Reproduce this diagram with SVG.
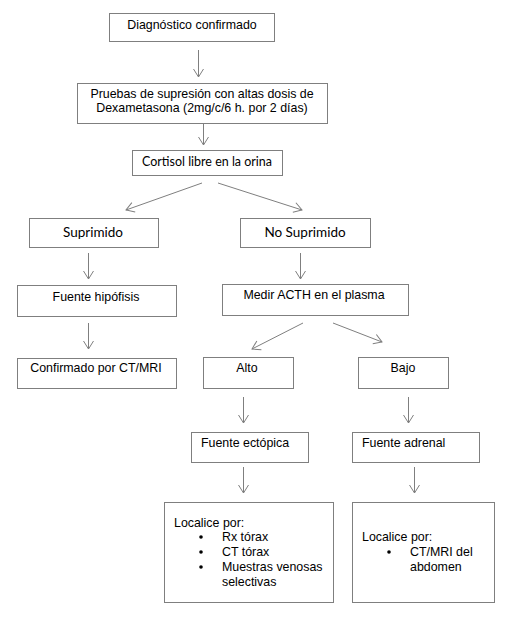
<svg xmlns="http://www.w3.org/2000/svg" width="506" height="618" viewBox="0 0 506 618">
<defs>
<marker id="ah" markerUnits="userSpaceOnUse" markerWidth="20" markerHeight="20" viewBox="-10 -10 20 20" refX="0" refY="0" orient="auto" overflow="visible">
<path d="M-8,-5 L0,0 L-8,5" fill="none" stroke="#7f7f7f" stroke-width="1"/>
</marker>
</defs>
<style>
rect{fill:#fff;stroke:#7f7f7f;stroke-width:1}
text{font-family:"Liberation Sans",Arial,sans-serif;font-size:12.4px;fill:#000}
.c{text-anchor:middle}
.k{font-family:Lato,"Open Sans",sans-serif;font-size:12.5px;font-weight:400}
.k2{font-size:13.5px}
#connectors line{stroke:#7f7f7f;stroke-width:1;marker-end:url(#ah)}
</style>
<rect x="0" y="0" width="506" height="618" style="stroke:none;fill:#fff"/>
<g id="connectors">
<line x1="198.5" y1="50" x2="198.5" y2="77"/>
<line x1="203.5" y1="123" x2="203.5" y2="145"/>
<line x1="202" y1="183" x2="126" y2="210"/>
<line x1="218" y1="183" x2="302" y2="210"/>
<line x1="88.5" y1="253" x2="88.5" y2="279"/>
<line x1="300.5" y1="253" x2="300.5" y2="279"/>
<line x1="88.5" y1="323" x2="88.5" y2="349"/>
<line x1="303" y1="323" x2="252" y2="349"/>
<line x1="333" y1="323" x2="382" y2="342"/>
<line x1="243.5" y1="397" x2="243.5" y2="423"/>
<line x1="408.5" y1="397" x2="408.5" y2="423"/>
<line x1="243.5" y1="467" x2="243.5" y2="493"/>
<line x1="414.5" y1="467" x2="414.5" y2="493"/>
</g>
<g id="n1"><rect x="109.5" y="13.5" width="165" height="28"/><text class="c" x="192" y="29">Diagnóstico confirmado</text></g>
<g id="n2"><rect x="77.5" y="83.5" width="250" height="40"/><text class="c" x="202" y="98">Pruebas de supresión con altas dosis de</text><text class="c" x="202" y="112">Dexametasona (2mg/c/6 h. por 2 días)</text></g>
<g id="n3"><rect x="132.5" y="150.5" width="150" height="25"/><text class="c k" x="207" y="166" textLength="130" lengthAdjust="spacingAndGlyphs">Cortisol libre en la orina</text></g>
<g id="n4"><rect x="29.5" y="218.5" width="129" height="29"/><text class="c k k2" x="93" y="237">Suprimido</text></g>
<g id="n5"><rect x="240.5" y="218.5" width="130" height="29"/><text class="c k k2" x="305" y="237">No Suprimido</text></g>
<g id="n6"><rect x="17.5" y="285.5" width="159" height="31"/><text class="c" x="96" y="301">Fuente hipófisis</text></g>
<g id="n7"><rect x="17.5" y="358.5" width="159" height="30"/><text class="c" x="96" y="372">Confirmado por CT/MRI</text></g>
<g id="n8"><rect x="222.5" y="284.5" width="186" height="31"/><text class="c" x="314" y="299">Medir ACTH en el plasma</text></g>
<g id="n9"><rect x="203.5" y="357.5" width="90" height="31"/><text class="c" x="247" y="372">Alto</text></g>
<g id="n10"><rect x="358.5" y="357.5" width="90" height="31"/><text class="c" x="403" y="372">Bajo</text></g>
<g id="n11"><rect x="191.5" y="432.5" width="117" height="30"/><text x="201" y="447">Fuente ectópica</text></g>
<g id="n12"><rect x="352.5" y="432.5" width="127" height="30"/><text x="362" y="447">Fuente adrenal</text></g>
<g id="n13"><rect x="164.5" y="502.5" width="169" height="100"/>
<text x="174" y="527">Localice por:</text>
<circle cx="201" cy="537" r="1.8"/><text x="222" y="541">Rx tórax</text>
<circle cx="201" cy="552" r="1.8"/><text x="222" y="556">CT tórax</text>
<circle cx="201" cy="567" r="1.8"/><text x="222" y="571">Muestras venosas</text>
<text x="222" y="586">selectivas</text>
</g>
<g id="n14"><rect x="352.5" y="502.5" width="142" height="100"/>
<text x="362" y="541">Localice por:</text>
<circle cx="389" cy="552" r="1.8"/><text x="410" y="556">CT/MRI del</text>
<text x="410" y="571">abdomen</text>
</g>
</svg>
